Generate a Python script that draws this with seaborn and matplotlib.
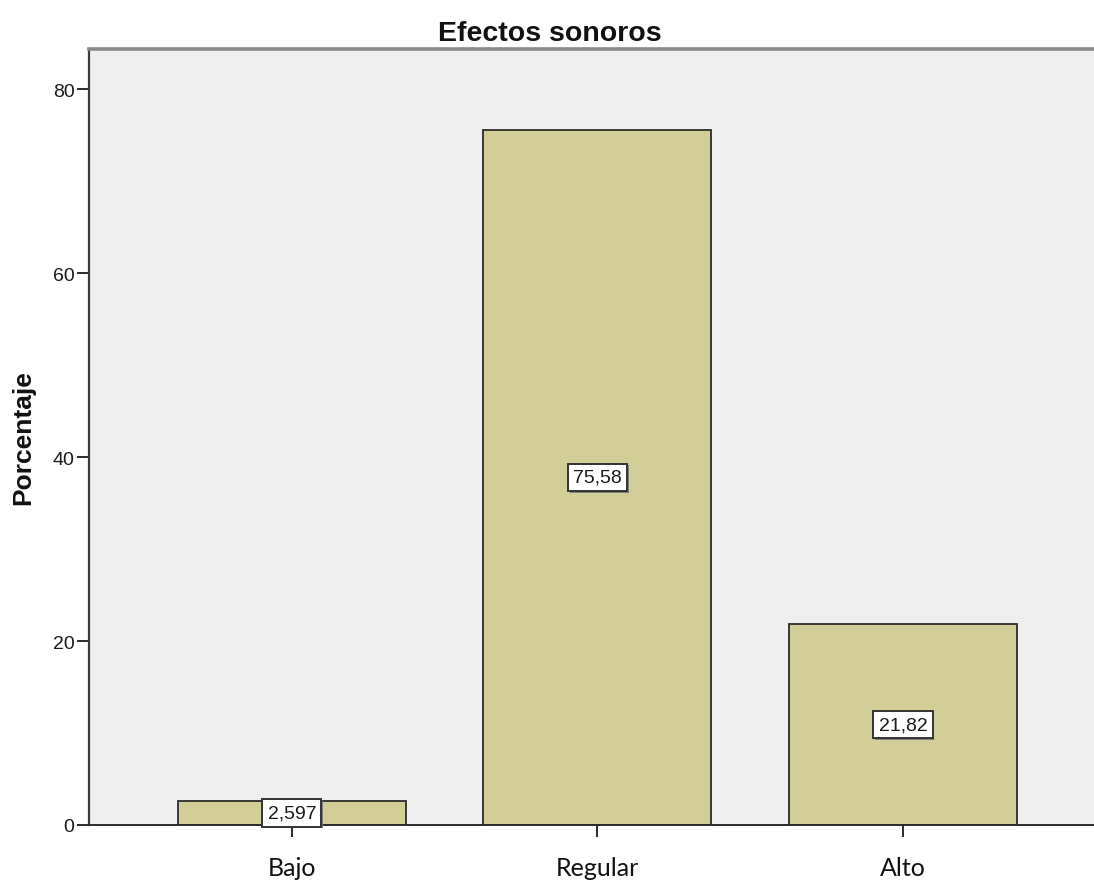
import matplotlib
matplotlib.use("Agg")
import matplotlib.pyplot as plt
import matplotlib.patheffects as pe
import seaborn as sns
import pandas as pd

categories = ["Bajo", "Regular", "Alto"]
values = [2.597, 75.58, 21.82]
value_labels = ["2,597", "75,58", "21,82"]
yticks = [0, 20, 40, 60, 80]
title = "Efectos sonoros"
ylabel = "Porcentaje"

sns.set_theme(style="white")
plt.rcParams["font.family"] = ["Liberation Sans", "DejaVu Sans"]

df = pd.DataFrame({"cat": categories, "val": values})

fig = plt.figure(figsize=(10.94, 8.87), dpi=100)
ax = fig.add_axes([89 / 1094, 61 / 887, 1 - 89 / 1094, 776 / 887])
ax.set_facecolor("#EFEFEF")

sns.barplot(data=df, x="cat", y="val", order=categories, color="#D3CE97",
            saturation=1, width=0.746, edgecolor="#2b2b2b", linewidth=1.3, ax=ax)

ax.set_xlim(-0.664, 2.625)
ax.set_ylim(0, 84.35)
ax.set_yticks(yticks)
ax.set_yticklabels([str(t) for t in yticks])

for i, (v, lab) in enumerate(zip(values, value_labels)):
    t = ax.text(i, v / 2, lab, ha="center", va="center", fontsize=14, color="#1a1a1a",
                bbox=dict(boxstyle="square,pad=0.27", facecolor="white",
                          edgecolor="#333333", linewidth=1.4))
    t.get_bbox_patch().set_path_effects([
        pe.SimplePatchShadow(offset=(1.2, -1.2), shadow_rgbFace="#777777", alpha=0.9),
        pe.Normal()])

ax.spines["right"].set_visible(False)
ax.spines["top"].set_color("#8a8a8a")
ax.spines["top"].set_linewidth(2.6)
ax.spines["left"].set_color("#3a3a3a")
ax.spines["left"].set_linewidth(1.6)
ax.spines["bottom"].set_color("#2b2b2b")
ax.spines["bottom"].set_linewidth(1.4)

ax.tick_params(axis="y", which="major", left=True, length=8.5, width=1.4,
               color="#2b2b2b", labelsize=14, labelcolor="#1a1a1a", pad=2)
ax.tick_params(axis="x", which="major", bottom=True, length=8.5, width=1.4,
               color="#2b2b2b", labelsize=18, labelcolor="#111111", pad=14)
for lab in ax.get_xticklabels():
    lab.set_family(["Lato", "DejaVu Sans"])

ax.set_xlabel("")
ax.set_ylabel(ylabel, fontsize=19, fontweight="bold", color="#111111")
ax.yaxis.set_label_coords((35 - 89) / 1005, 0.5)

fig.text(550 / 1094, 1 - 41 / 887, title, ha="center", va="baseline",
         fontsize=20.5, fontweight="bold", color="#111111")

fig.savefig("out.png", dpi=100)
